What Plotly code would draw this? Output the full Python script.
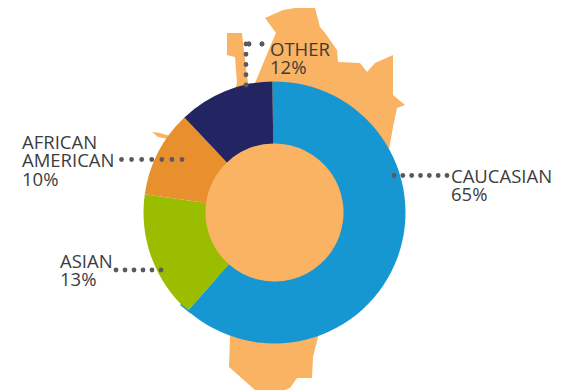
import plotly.graph_objects as go

segments = ["CAUCASIAN", "ASIAN", "AFRICAN AMERICAN", "OTHER"]
drawn_share = [61.8, 15.7, 10.7, 11.8]
colors = ["#1797D2", "#9BBD00", "#E88F2E", "#232562"]
label_lines = [
    ["CAUCASIAN", "65%"],
    ["ASIAN", "13%"],
    ["AFRICAN", "AMERICAN", "10%"],
    ["OTHER", "12%"],
]
label_pos = [(450, 175), (59, 260), (21, 141), (269, 48)]
MAP = "#FAB263"
W, H = 567, 390
PAD = 8  # the page's own body margin offsets the figure
CX, CY, R = 274.5, 212.5, 131
LINE = 18.5

map_pts = [(227,33),(242,33),(243,43),(248,83),(255,83),(275,35),(276,33),(265,18),(283,10),
           (307,6),(315,8),(320,27),(325,33),(337,50),(338,62),(360,63),(367,72),(375,63),
           (393,55),(393,95),(405,105),(397,108),(393,127),(380,200),(318,337),(313,357),
           (312,378),(297,378),(290,388),(285,390),(255,390),(229,367),(230,337),(200,200),
           (237,83),(235,57),(227,55)]
sliver = [(152,132),(160,133),(170,136),(168,139),(158,137)]

def poly(pts):
    return "M" + " L".join(f"{x},{y}" for x, y in pts) + " Z"

shapes = [
    dict(type="path", path=poly(map_pts), fillcolor=MAP, line_width=0, layer="below", xref="x", yref="y"),
    dict(type="path", path=poly(sliver), fillcolor=MAP, line_width=0, layer="below", xref="x", yref="y"),
    dict(type="circle", x0=205, x1=343, y0=140, y1=278, fillcolor=MAP, line_width=0, layer="below", xref="x", yref="y"),
    dict(type="line", x0=180.5, y0=304.5, x1=191, y1=313, line=dict(color=colors[0], width=1.5), layer="above", xref="x", yref="y"),
]

def dots(x0, y0, x1, y1, n):
    for i in range(n):
        t = i / (n - 1)
        x, y = x0 + (x1 - x0) * t, y0 + (y1 - y0) * t
        shapes.append(dict(type="circle", x0=x-2.4, x1=x+2.4, y0=y-2.4, y1=y+2.4,
                           fillcolor="#5A5A5E", line_width=0, layer="above", xref="x", yref="y"))

dots(394, 175.5, 447, 175.5, 7)
dots(121.5, 159.5, 182, 159.5, 7)
dots(116, 270, 161, 270, 6)
dots(246, 44, 246, 85, 5)
dots(249, 44, 249, 44, 2)
dots(262, 44, 262, 44, 2)

FW, FH = W - PAD, H - PAD

fig = go.Figure()
fig.add_trace(go.Pie(
    labels=segments, values=drawn_share, hole=0.527, sort=False, direction="clockwise", rotation=-1,
    marker=dict(colors=colors, line=dict(width=0)), textinfo="none", hoverinfo="label",
    domain=dict(x=[(CX-R-PAD)/FW, (CX+R-PAD)/FW], y=[1-(CY+R-PAD)/FH, 1-(CY-R-PAD)/FH]), showlegend=False,
))

annotations = []
for lines, (x, y) in zip(label_lines, label_pos):
    for i, text in enumerate(lines):
        annotations.append(dict(text=text, x=x, y=y + i * LINE, xref="x", yref="y", xanchor="left",
                                yanchor="middle", showarrow=False, xshift=-1,
                                font=dict(family="Open Sans", size=18.5, color="#3C3C3E")))

fig.update_layout(
    width=FW, height=FH, margin=dict(l=0, r=0, t=0, b=0), paper_bgcolor="white", plot_bgcolor="white",
    xaxis=dict(range=[PAD, W], visible=False, fixedrange=True),
    yaxis=dict(range=[H, PAD], visible=False, fixedrange=True),
    shapes=shapes, annotations=annotations,
)
fig.write_html("out.html", config=dict(displayModeBar=False))
